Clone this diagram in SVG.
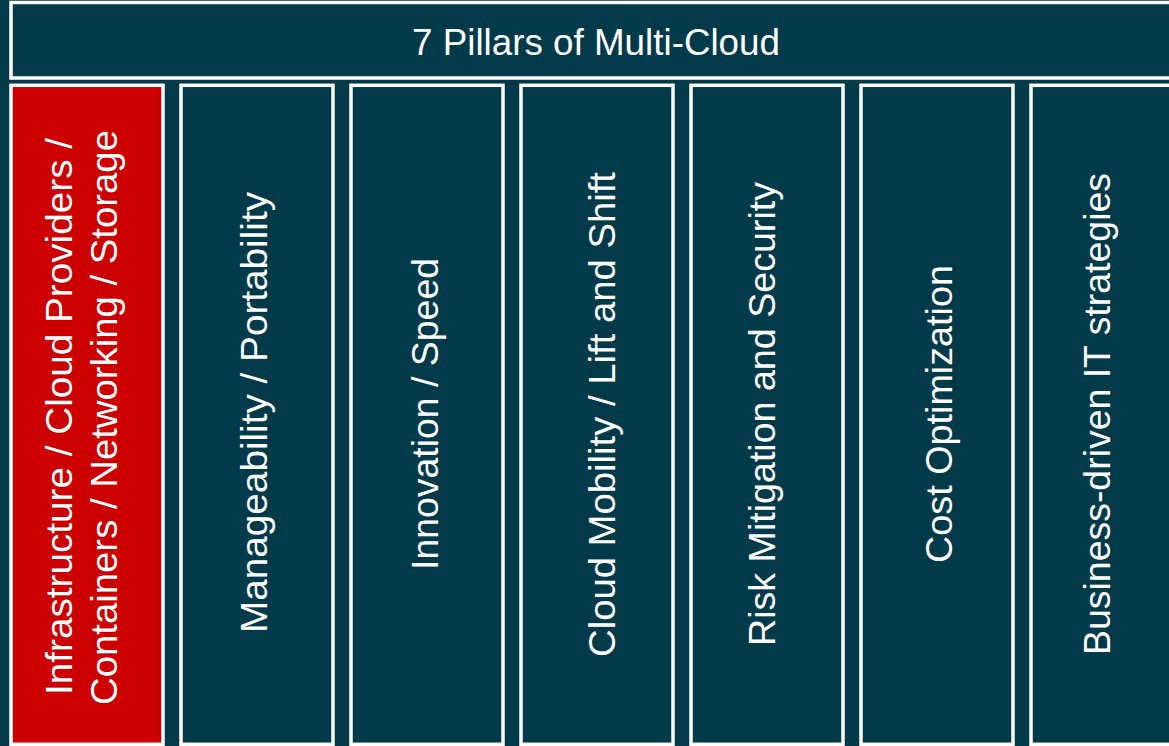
<svg xmlns="http://www.w3.org/2000/svg" width="1169" height="746" viewBox="0 0 1169 746">
<style>
.box{fill:#023a4a;stroke:#ffffff;stroke-width:3.5}
.red{fill:#cc0000}
.t{fill:#ffffff;font-family:"Liberation Sans",Arial,sans-serif;font-size:37px;text-anchor:middle}
.title{fill:#ffffff;font-family:"Liberation Sans",Arial,sans-serif;font-size:36.5px;text-anchor:middle}
</style>
<rect x="0" y="0" width="1169" height="746" fill="#023a4a"/>
<g id="title">
<rect class="box" x="11" y="2.5" width="1175" height="75.5"/>
<text class="title" x="596" y="54.5" textLength="368" lengthAdjust="spacingAndGlyphs">7 Pillars of Multi-Cloud</text>
</g>
<g id="pillar1">
<rect class="box red" x="11" y="85.3" width="152" height="659"/>
<text class="t" transform="translate(72,416.5) rotate(-90)" textLength="557" lengthAdjust="spacingAndGlyphs">Infrastructure / Cloud Providers /</text>
<text class="t" transform="translate(117,417.5) rotate(-90)" textLength="575" lengthAdjust="spacingAndGlyphs">Containers / Networking / Storage</text>
</g>
<g id="pillar2">
<rect class="box" x="181" y="85.3" width="152" height="659"/>
<text class="t" transform="translate(267,412.5) rotate(-90)" textLength="441" lengthAdjust="spacingAndGlyphs">Manageability / Portability</text>
</g>
<g id="pillar3">
<rect class="box" x="351" y="85.3" width="152" height="659"/>
<text class="t" transform="translate(438,414) rotate(-90)" textLength="312" lengthAdjust="spacingAndGlyphs">Innovation / Speed</text>
</g>
<g id="pillar4">
<rect class="box" x="521" y="85.3" width="152" height="659"/>
<text class="t" transform="translate(615,414.5) rotate(-90)" textLength="485" lengthAdjust="spacingAndGlyphs">Cloud Mobility / Lift and Shift</text>
</g>
<g id="pillar5">
<rect class="box" x="691" y="85.3" width="152" height="659"/>
<text class="t" transform="translate(775,414) rotate(-90)" textLength="464" lengthAdjust="spacingAndGlyphs">Risk Mitigation and Security</text>
</g>
<g id="pillar6">
<rect class="box" x="861" y="85.3" width="152" height="659"/>
<text class="t" transform="translate(952,414) rotate(-90)" textLength="298" lengthAdjust="spacingAndGlyphs">Cost Optimization</text>
</g>
<g id="pillar7">
<rect class="box" x="1031" y="85.3" width="152" height="659"/>
<text class="t" transform="translate(1110,414) rotate(-90)" textLength="482" lengthAdjust="spacingAndGlyphs">Business-driven IT strategies</text>
</g>
<g id="connectors"></g>
</svg>
